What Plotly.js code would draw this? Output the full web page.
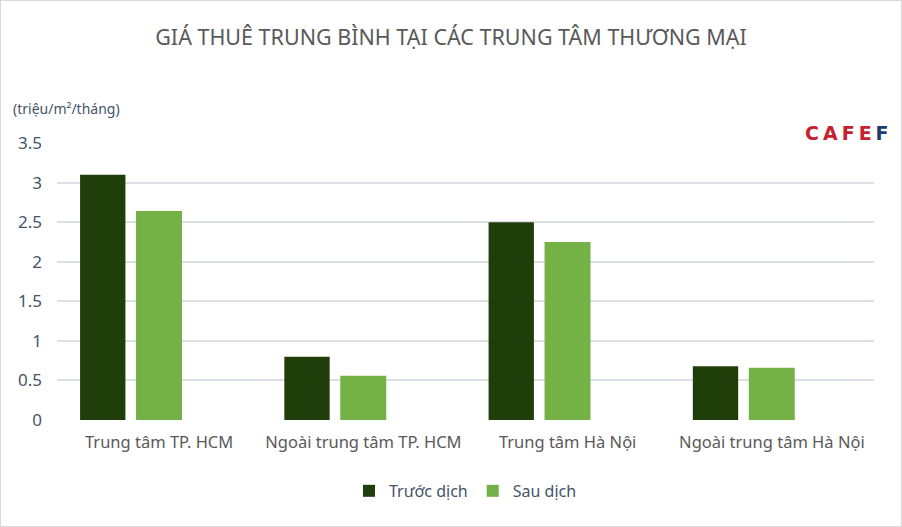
<!DOCTYPE html>
<html>
<head>
<meta charset="utf-8">
<script src="https://cdn.plot.ly/plotly-3.0.1.min.js"></script>
<style>
  html, body { margin: 0; padding: 0; background: #fff; }
  #wrap { width: 900px; height: 525px; border: 1px solid #d9d9d9; }
  #chart { width: 900px; height: 525px; }
  .annotation[data-index="1"] text { letter-spacing: 4px; }
</style>
</head>
<body>
<div id="wrap"><div id="chart"></div></div>
<script>
const categories = ["Trung tâm TP. HCM", "Ngoài trung tâm TP. HCM", "Trung tâm Hà Nội", "Ngoài trung tâm Hà Nội"];
const seriesNames = ["Trước dịch", "Sau dịch"];
const truocDich = [3.1, 0.8, 2.5, 0.68];
const sauDich = [2.64, 0.56, 2.25, 0.66];
const yTicks = [0, 0.5, 1, 1.5, 2, 2.5, 3, 3.5];
const titleText = "GIÁ THUÊ TRUNG BÌNH TẠI CÁC TRUNG TÂM THƯƠNG MẠI";
const unitText = "(triệu/m²/tháng)";

const font = "Noto Sans, Open Sans, sans-serif";
const traces = [
  {
    type: "bar", name: seriesNames[0], x: categories, y: truocDich,
    marker: { color: "#203E0A" }, width: 0.222, offset: -0.387,
    hoverinfo: "x+y+name"
  },
  {
    type: "bar", name: seriesNames[1], x: categories, y: sauDich,
    marker: { color: "#74B146" }, width: 0.225, offset: -0.113,
    hoverinfo: "x+y+name"
  }
];

const layout = {
  width: 900, height: 525,
  margin: { l: 56, r: 27, t: 142, b: 106 },
  paper_bgcolor: "#ffffff", plot_bgcolor: "#ffffff",
  font: { family: font, color: "#595959" },
  title: {
    text: titleText, x: 0.5, xanchor: "center", y: 0.93, yref: "container", yanchor: "middle",
    font: { family: font, size: 21.5, color: "#595959" }
  },
  showlegend: true,
  legend: {
    orientation: "h", x: 0.5, xanchor: "center", y: -0.256, yanchor: "middle",
    font: { family: font, size: 16, color: "#44546A" }, itemwidth: 30, traceorder: "normal"
  },
  xaxis: {
    type: "category", showgrid: false, zeroline: false, showline: false, ticks: "",
    tickfont: { family: font, size: 16.5, color: "#595959" }, ticklabelstandoff: 10,
    fixedrange: true
  },
  yaxis: {
    range: [0, 3.5], tickvals: yTicks, showgrid: true, gridcolor: "#DCE0E5", gridwidth: 2,
    zeroline: false, showline: false, ticks: "",
    tickfont: { family: font, size: 17, color: "#44546A" }, ticklabelstandoff: 14,
    fixedrange: true
  },
  annotations: [
    {
      text: unitText, xref: "paper", yref: "paper", x: -0.056, y: 1.126,
      xanchor: "left", yanchor: "middle", showarrow: false,
      font: { family: font, size: 14, color: "#44546A" }
    },
    {
      text: "<b><span style='color:#C8202F'>CAFE</span><span style='color:#1F3A6E'>F</span></b>",
      xref: "paper", yref: "paper", x: 1.0135, y: 1.036,
      xanchor: "right", yanchor: "middle", showarrow: false,
      font: { family: "DejaVu Sans, sans-serif", size: 19 }
    }
  ],
  bargap: 0.17
};

Plotly.newPlot("chart", traces, layout, { displayModeBar: false, staticPlot: true });
</script>
</body>
</html>
